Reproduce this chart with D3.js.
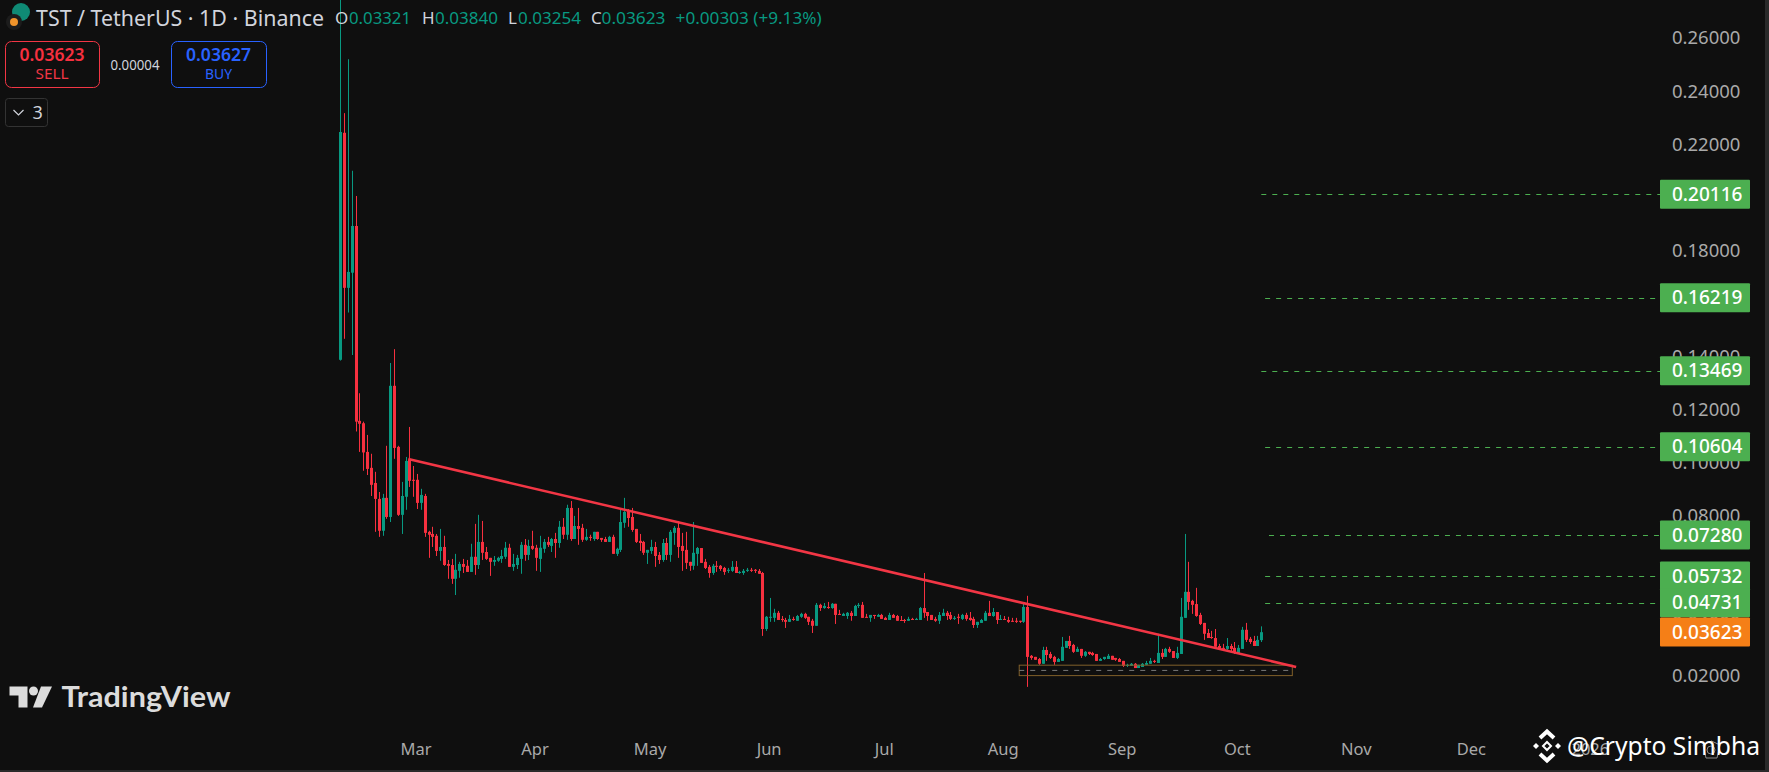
<!DOCTYPE html>
<html>
<head>
<meta charset="utf-8">
<script src="https://cdn.jsdelivr.net/npm/d3@7"></script>
<style>
  body { margin: 0; background: #0f0f0f; overflow: hidden; }
  text { font-family: "Noto Sans", sans-serif; }
</style>
</head>
<body>
<script>
// daily candles TST/USDT, Feb 9 2025 onwards, ten per row
const opens = [
  .1388,.2243,.1659,.1716,.1892,.1158,.1149,.1041,.0981,.0924,
  .0864,.0744,.0868,.0796,.1290,.1060,.0804,.0872,.1011,.0936,
  .0936,.0849,.0875,.0740,.0732,.0725,.0668,.0683,.0619,.0615,
  .0563,.0593,.0619,.0612,.0589,.0646,.0615,.0702,.0664,.0642,
  .0627,.0631,.0638,.0646,.0680,.0608,.0615,.0638,.0691,.0653,
  .0687,.0680,.0638,.0676,.0702,.0687,.0713,.0698,.0759,.0729,
  .0830,.0713,.0762,.0755,.0710,.0721,.0713,.0740,.0717,.0713,
  .0702,.0721,.0657,.0672,.0774,.0819,.0796,.0751,.0706,.0702,
  .0661,.0668,.0683,.0653,.0634,.0698,.0653,.0736,.0755,.0687,
  .0672,.0627,.0612,.0657,.0679,.0627,.0608,.0585,.0612,.0612,
  .0604,.0593,.0593,.0608,.0585,.0585,.0593,.0597,.0597,.0593,
  .0585,.0374,.0416,.0416,.0435,.0412,.0408,.0401,.0412,.0405,
  .0420,.0431,.0420,.0405,.0386,.0465,.0453,.0457,.0453,.0469,
  .0431,.0423,.0423,.0435,.0423,.0461,.0465,.0420,.0416,.0427,
  .0420,.0427,.0416,.0408,.0427,.0423,.0408,.0408,.0405,.0412,
  .0408,.0408,.0453,.0438,.0427,.0412,.0405,.0423,.0435,.0427,
  .0412,.0420,.0412,.0427,.0416,.0412,.0389,.0397,.0405,.0435,
  .0423,.0438,.0408,.0412,.0408,.0405,.0405,.0405,.0401,.0457,
  .0273,.0269,.0261,.0243,.0295,.0280,.0269,.0250,.0254,.0303,
  .0329,.0314,.0288,.0299,.0273,.0288,.0284,.0280,.0254,.0261,
  .0261,.0273,.0265,.0261,.0254,.0235,.0235,.0243,.0227,.0231,
  .0239,.0243,.0254,.0246,.0284,.0269,.0299,.0291,.0265,.0280,
  .0416,.0514,.0480,.0468,.0427,.0397,.0359,.0344,.0340,.0310,
  .0303,.0299,.0310,.0303,.0284,.0299,.0371,.0337,.0329,.0310,
  .0332
];
const highs = [
  .3000,.2317,.2520,.2100,.2005,.1262,.1155,.1105,.1034,.0966,
  .0890,.0883,.1064,.1376,.1428,.1064,.0928,.1022,.1135,.0988,
  .0958,.0902,.0883,.0744,.0759,.0732,.0751,.0725,.0634,.0638,
  .0657,.0627,.0638,.0634,.0695,.0770,.0804,.0781,.0683,.0642,
  .0649,.0646,.0672,.0702,.0695,.0657,.0653,.0702,.0713,.0710,
  .0744,.0691,.0725,.0713,.0721,.0717,.0736,.0781,.0792,.0842,
  .0856,.0800,.0830,.0770,.0751,.0729,.0740,.0740,.0717,.0721,
  .0725,.0729,.0680,.0823,.0868,.0826,.0830,.0751,.0732,.0706,
  .0672,.0710,.0702,.0664,.0713,.0717,.0747,.0762,.0781,.0736,
  .0740,.0627,.0777,.0683,.0679,.0638,.0615,.0619,.0630,.0615,
  .0608,.0604,.0630,.0630,.0593,.0600,.0604,.0604,.0600,.0600,
  .0589,.0423,.0491,.0450,.0442,.0423,.0416,.0427,.0420,.0427,
  .0435,.0435,.0420,.0412,.0472,.0469,.0472,.0476,.0472,.0469,
  .0446,.0435,.0438,.0442,.0465,.0472,.0476,.0431,.0427,.0427,
  .0431,.0431,.0420,.0435,.0431,.0427,.0423,.0412,.0420,.0416,
  .0416,.0457,.0585,.0438,.0427,.0420,.0438,.0450,.0442,.0438,
  .0423,.0431,.0431,.0435,.0438,.0420,.0401,.0412,.0442,.0480,
  .0453,.0438,.0427,.0423,.0420,.0416,.0416,.0405,.0472,.0499,
  .0276,.0269,.0265,.0307,.0307,.0288,.0273,.0265,.0344,.0329,
  .0348,.0318,.0307,.0299,.0291,.0288,.0288,.0280,.0265,.0269,
  .0280,.0273,.0265,.0265,.0254,.0243,.0246,.0246,.0239,.0246,
  .0254,.0265,.0258,.0356,.0299,.0303,.0307,.0291,.0307,.0491,
  .0732,.0627,.0484,.0529,.0435,.0397,.0374,.0367,.0374,.0318,
  .0318,.0340,.0318,.0325,.0314,.0382,.0397,.0344,.0348,.0348,
  .0384
];
const lows = [
  .1385,.1467,.1566,.1406,.1118,.1041,.0970,.0954,.0875,.0740,
  .0721,.0725,.0789,.0777,.1015,.0800,.0732,.0823,.0909,.0872,
  .0826,.0823,.0721,.0642,.0683,.0649,.0631,.0612,.0563,.0544,
  .0502,.0567,.0585,.0589,.0589,.0578,.0600,.0634,.0634,.0574,
  .0612,.0627,.0623,.0638,.0608,.0593,.0600,.0582,.0631,.0634,
  .0672,.0593,.0589,.0661,.0683,.0664,.0642,.0680,.0713,.0710,
  .0706,.0713,.0691,.0702,.0706,.0706,.0706,.0710,.0702,.0702,
  .0702,.0657,.0649,.0664,.0755,.0759,.0740,.0698,.0668,.0653,
  .0619,.0657,.0608,.0619,.0627,.0634,.0627,.0691,.0642,.0593,
  .0600,.0593,.0597,.0612,.0623,.0600,.0567,.0578,.0589,.0593,
  .0578,.0585,.0589,.0585,.0582,.0578,.0589,.0589,.0585,.0582,
  .0348,.0367,.0401,.0401,.0408,.0401,.0378,.0401,.0405,.0405,
  .0416,.0412,.0389,.0359,.0386,.0442,.0450,.0450,.0450,.0393,
  .0427,.0423,.0412,.0405,.0423,.0453,.0416,.0416,.0401,.0412,
  .0420,.0412,.0408,.0408,.0416,.0405,.0405,.0397,.0405,.0408,
  .0408,.0408,.0416,.0405,.0408,.0401,.0393,.0423,.0408,.0408,
  .0408,.0393,.0408,.0405,.0405,.0378,.0378,.0397,.0405,.0423,
  .0420,.0393,.0408,.0408,.0397,.0401,.0397,.0397,.0397,.0156,
  .0258,.0258,.0239,.0243,.0254,.0261,.0239,.0250,.0254,.0303,
  .0299,.0284,.0288,.0265,.0269,.0276,.0273,.0254,.0254,.0258,
  .0261,.0258,.0254,.0250,.0231,.0231,.0235,.0227,.0227,.0231,
  .0239,.0243,.0246,.0246,.0261,.0269,.0284,.0265,.0261,.0280,
  .0416,.0446,.0431,.0420,.0389,.0333,.0340,.0337,.0307,.0295,
  .0291,.0291,.0288,.0280,.0280,.0299,.0325,.0318,.0310,.0310,
  .0325
];
const closes = [
  .2246,.1659,.1719,.1892,.1155,.1147,.1039,.0977,.0917,.0864,
  .0744,.0868,.0796,.1290,.1056,.0804,.0875,.1007,.0932,.0932,
  .0849,.0879,.0736,.0729,.0721,.0668,.0683,.0615,.0612,.0563,
  .0597,.0619,.0608,.0589,.0646,.0615,.0702,.0661,.0638,.0627,
  .0634,.0642,.0649,.0680,.0608,.0619,.0642,.0691,.0653,.0687,
  .0676,.0642,.0680,.0702,.0691,.0713,.0698,.0759,.0729,.0830,
  .0713,.0762,.0751,.0710,.0721,.0717,.0740,.0713,.0710,.0702,
  .0721,.0657,.0676,.0777,.0815,.0792,.0747,.0702,.0698,.0661,
  .0672,.0683,.0649,.0634,.0698,.0653,.0740,.0755,.0683,.0668,
  .0623,.0612,.0661,.0679,.0623,.0604,.0585,.0612,.0608,.0600,
  .0589,.0597,.0608,.0585,.0589,.0593,.0597,.0593,.0593,.0582,
  .0374,.0420,.0420,.0435,.0408,.0408,.0401,.0412,.0408,.0423,
  .0431,.0416,.0401,.0386,.0465,.0453,.0461,.0453,.0469,.0427,
  .0427,.0431,.0435,.0423,.0461,.0465,.0416,.0416,.0427,.0423,
  .0427,.0412,.0408,.0427,.0416,.0405,.0405,.0405,.0412,.0408,
  .0412,.0453,.0435,.0423,.0408,.0405,.0427,.0435,.0423,.0412,
  .0416,.0416,.0427,.0412,.0408,.0389,.0401,.0408,.0435,.0423,
  .0438,.0408,.0412,.0408,.0401,.0401,.0401,.0401,.0457,.0269,
  .0265,.0258,.0243,.0295,.0276,.0265,.0250,.0261,.0307,.0329,
  .0310,.0288,.0299,.0273,.0288,.0280,.0276,.0254,.0261,.0269,
  .0273,.0258,.0258,.0250,.0235,.0239,.0243,.0227,.0239,.0243,
  .0246,.0254,.0250,.0284,.0269,.0299,.0288,.0265,.0284,.0420,
  .0514,.0476,.0465,.0423,.0393,.0356,.0340,.0340,.0307,.0299,
  .0299,.0310,.0299,.0284,.0303,.0371,.0333,.0325,.0310,.0333,
  .0362
];

const priceTicks = [0.26, 0.24, 0.22, 0.20, 0.18, 0.16, 0.14, 0.12, 0.10, 0.08, 0.06, 0.04, 0.02];
const monthTicks = ["2025-03-01", "2025-04-01", "2025-05-01", "2025-06-01", "2025-07-01", "2025-08-01", "2025-09-01", "2025-10-01", "2025-11-01", "2025-12-01", "2026-01-01"];
const monthLabels = ["Mar", "Apr", "May", "Jun", "Jul", "Aug", "Sep", "Oct", "Nov", "Dec", "2026"];

// target levels drawn by the author, and the day each dashed line starts
const targetPrices = [0.20116, 0.16219, 0.13469, 0.10604, 0.07280, 0.05732, 0.04731];
const targetStarts = ["2025-10-07", "2025-10-08", "2025-10-07", "2025-10-08", "2025-10-09", "2025-10-08", "2025-10-08"];
const lastPrice = 0.03623;

const trendDates = ["2025-02-26T17:00Z", "2025-10-16T02:00Z"];
const trendPrices = [0.1014, 0.0231];
const boxDates = ["2025-08-04T22:00Z", "2025-10-15T02:00Z"];
const boxPrices = [0.02377, 0.01985];
const boxMid = 0.0218;

const w = 1769, h = 772;
const axisX = 1660;
const green = "#089981", red = "#f7303f", teal = "#4caf50";

const firstDay = new Date("2025-02-09T00:00Z");
const days = opens.map((d, i) => d3.utcDay.offset(firstDay, i));

const x = d3.scaleUtc().domain([days[0], days[days.length - 1]]).range([340.3, 1261.3]);
const y = d3.scaleLinear().domain([0.26, 0.02]).range([38, 675.2]);

const svg = d3.select("body").append("svg").attr("width", w).attr("height", h).style("display", "block");

svg.append("rect").attr("width", w).attr("height", h).attr("fill", "#0f0f0f");
svg.append("rect").attr("x", 1765).attr("width", 4).attr("height", h).attr("fill", "#2a2a2a");
svg.append("rect").attr("y", 770).attr("width", w).attr("height", 2).attr("fill", "#2a2a2a");

// wicks then bodies
const candles = svg.append("g").selectAll("g").data(days).enter().append("g");
const colour = i => closes[i] >= opens[i] ? green : red;

candles.append("line")
  .attr("x1", d => Math.round(x(d)) + 0.5)
  .attr("x2", d => Math.round(x(d)) + 0.5)
  .attr("y1", (d, i) => y(highs[i]))
  .attr("y2", (d, i) => y(lows[i]))
  .attr("stroke", (d, i) => colour(i))
  .attr("stroke-width", 1);

candles.append("rect")
  .attr("x", d => Math.round(x(d)) - 1)
  .attr("width", 3)
  .attr("y", (d, i) => y(Math.max(opens[i], closes[i])))
  .attr("height", (d, i) => Math.max(1, Math.abs(y(opens[i]) - y(closes[i]))))
  .attr("fill", (d, i) => colour(i));

// demand box under the trend line
svg.append("rect")
  .attr("x", x(new Date(boxDates[0])))
  .attr("width", x(new Date(boxDates[1])) - x(new Date(boxDates[0])))
  .attr("y", y(boxPrices[0]))
  .attr("height", y(boxPrices[1]) - y(boxPrices[0]))
  .attr("fill", "none")
  .attr("stroke", "#80602a")
  .attr("stroke-width", 1);

svg.append("line")
  .attr("x1", x(new Date(boxDates[0])))
  .attr("x2", x(new Date(boxDates[1])) - 4)
  .attr("y1", y(boxMid))
  .attr("y2", y(boxMid))
  .attr("stroke", "#787878")
  .attr("stroke-dasharray", "5 6");

svg.append("line")
  .attr("x1", x(new Date(trendDates[0])))
  .attr("x2", x(new Date(trendDates[1])))
  .attr("y1", y(trendPrices[0]))
  .attr("y2", y(trendPrices[1]))
  .attr("stroke", "#f23645")
  .attr("stroke-width", 2.5);

// price axis, the target labels sit on top of it
const yAxis = d3.axisRight(y).tickValues(priceTicks).tickSize(0).tickPadding(12).tickFormat(d3.format(".5f"));
const yg = svg.append("g").attr("transform", "translate(" + axisX + ",0)").call(yAxis);
yg.select(".domain").remove();
yg.selectAll("text").attr("fill", "#a9a9a9").style("font-size", "18.5px").style("font-family", '"Noto Sans", sans-serif');

const xAxis = d3.axisBottom(x)
  .tickValues(monthTicks.map(d => new Date(d + "T00:00Z")))
  .tickSize(0)
  .tickFormat((d, i) => monthLabels[i]);
const xg = svg.append("g").attr("transform", "translate(-1.5,749)").call(xAxis);
xg.select(".domain").remove();
xg.selectAll("text").attr("y", 0).attr("dy", "0.35em").attr("fill", "#a9a9a9").style("font-size", "16.5px").style("font-family", '"Noto Sans", sans-serif');

svg.append("g").selectAll("line").data(targetPrices).enter().append("line")
  .attr("x1", (d, i) => x(new Date(targetStarts[i] + "T00:00Z")))
  .attr("x2", axisX)
  .attr("y1", d => Math.round(y(d)) + 0.5)
  .attr("y2", d => Math.round(y(d)) + 0.5)
  .attr("stroke", teal)
  .attr("stroke-dasharray", "5 6");

const priceLabel = (value, fill) => {
  const g = svg.append("g");
  g.append("rect").attr("x", axisX).attr("y", y(value) - 14.5).attr("width", 90).attr("height", 29).attr("rx", 1).attr("fill", fill);
  g.append("text").attr("x", axisX + 12).attr("y", y(value)).attr("dy", "0.35em")
    .attr("fill", "#fff").style("font-size", "19px").style("font-weight", 500).text(d3.format(".5f")(value));
};
targetPrices.forEach(v => priceLabel(v, teal));
priceLabel(lastPrice, "#f57f17");

// legend header
const label = (txt, px, py, size, fill, opts) => {
  const t = svg.append("text").attr("x", px).attr("y", py).attr("dy", "0.35em").attr("fill", fill)
    .style("font-size", size + "px").text(txt);
  if (opts && opts.len) t.attr("textLength", opts.len).attr("lengthAdjust", "spacingAndGlyphs");
  if (opts && opts.anchor) t.attr("text-anchor", opts.anchor);
  if (opts && opts.weight) t.style("font-weight", opts.weight);
  return t;
};

svg.append("circle").attr("cx", 21).attr("cy", 12).attr("r", 9).attr("fill", "#0f8a75");
svg.append("circle").attr("cx", 14).attr("cy", 22).attr("r", 8).attr("fill", "#1c1c1c");
svg.append("circle").attr("cx", 14).attr("cy", 22).attr("r", 4).attr("fill", "#f0942b");

label("TST / TetherUS · 1D · Binance", 36, 18, 22, "#d1d4dc", { len: 288 });
label("O", 335, 18, 17, "#d1d4dc");
label("0.03321", 349, 18, 17, green, { len: 62 });
label("H", 422, 18, 17, "#d1d4dc");
label("0.03840", 435, 18, 17, green, { len: 63 });
label("L", 508, 18, 17, "#d1d4dc");
label("0.03254", 518, 18, 17, green, { len: 63 });
label("C", 591, 18, 17, "#d1d4dc");
label("0.03623", 601.5, 18, 17, green, { len: 64 });
label("+0.00303 (+9.13%)", 675.6, 18, 17, green, { len: 146 });

svg.append("rect").attr("x", 5.5).attr("y", 41.5).attr("width", 94).attr("height", 46).attr("rx", 6).attr("fill", "none").attr("stroke", "#f23645");
label("0.03623", 52, 55, 17, "#f7303f", { anchor: "middle", weight: 600, len: 65 });
label("SELL", 52, 74, 15, "#f23645", { anchor: "middle", len: 33 });
label("0.00004", 135, 65.5, 13.5, "#d1d4dc", { anchor: "middle", len: 49 });
svg.append("rect").attr("x", 171.5).attr("y", 41.5).attr("width", 95).attr("height", 46).attr("rx", 6).attr("fill", "none").attr("stroke", "#2962ff");
label("0.03627", 218.5, 55, 17, "#2962ff", { anchor: "middle", weight: 600, len: 65 });
label("BUY", 218.5, 74, 15, "#2962ff", { anchor: "middle", len: 27 });

svg.append("rect").attr("x", 5.5).attr("y", 98.5).attr("width", 42).attr("height", 28).attr("rx", 3).attr("fill", "none").attr("stroke", "#333");
svg.append("path").attr("d", "M13.5 110 L18.5 115 L23.5 110").attr("fill", "none").attr("stroke", "#d1d4dc").attr("stroke-width", 1.2);
label("3", 32.5, 112.5, 18, "#d1d4dc");

// TradingView mark
svg.append("path").attr("fill", "#dcdcdc").attr("d", "M9.5 686.5 H27.5 V707.5 H18.5 V695.5 H9.5 Z");
svg.append("circle").attr("cx", 33.5).attr("cy", 691).attr("r", 4.5).attr("fill", "#dcdcdc");
svg.append("path").attr("fill", "#dcdcdc").attr("d", "M41 686.5 H52 L42 707.5 H33 Z");
label("TradingView", 61.5, 697.5, 28, "#dcdcdc", { len: 169, weight: 700 }).style("font-family", "Lato, sans-serif");

// poster's watermark
const diamond = (cx, cy, r) => "M" + cx + " " + (cy - r) + " L" + (cx + r) + " " + cy + " L" + cx + " " + (cy + r) + " L" + (cx - r) + " " + cy + " Z";
const mark = svg.append("g").attr("fill", "#fff");
mark.append("path").attr("d", diamond(1536, 746, 3));
mark.append("path").attr("d", diamond(1558, 746, 3));
svg.append("path").attr("d", diamond(1547, 746, 4)).attr("fill", "none").attr("stroke", "#fff").attr("stroke-width", 2);
svg.append("path").attr("d", "M1540 738 L1547 731.5 L1554 738 M1540 754 L1547 760.5 L1554 754").attr("fill", "none").attr("stroke", "#fff").attr("stroke-width", 4);
// settings hexagon of the chart, under the poster's name
svg.append("path").attr("d", "M1703 745 L1711.5 741 L1720 745 L1717 758 H1706 Z").attr("fill", "none").attr("stroke", "#8a8a8a");
svg.append("circle").attr("cx", 1711).attr("cy", 750).attr("r", 4).attr("fill", "none").attr("stroke", "#8a8a8a");
label("@Crypto Simbha", 1567, 746, 26, "#fff", { len: 193 });
</script>
</body>
</html>
